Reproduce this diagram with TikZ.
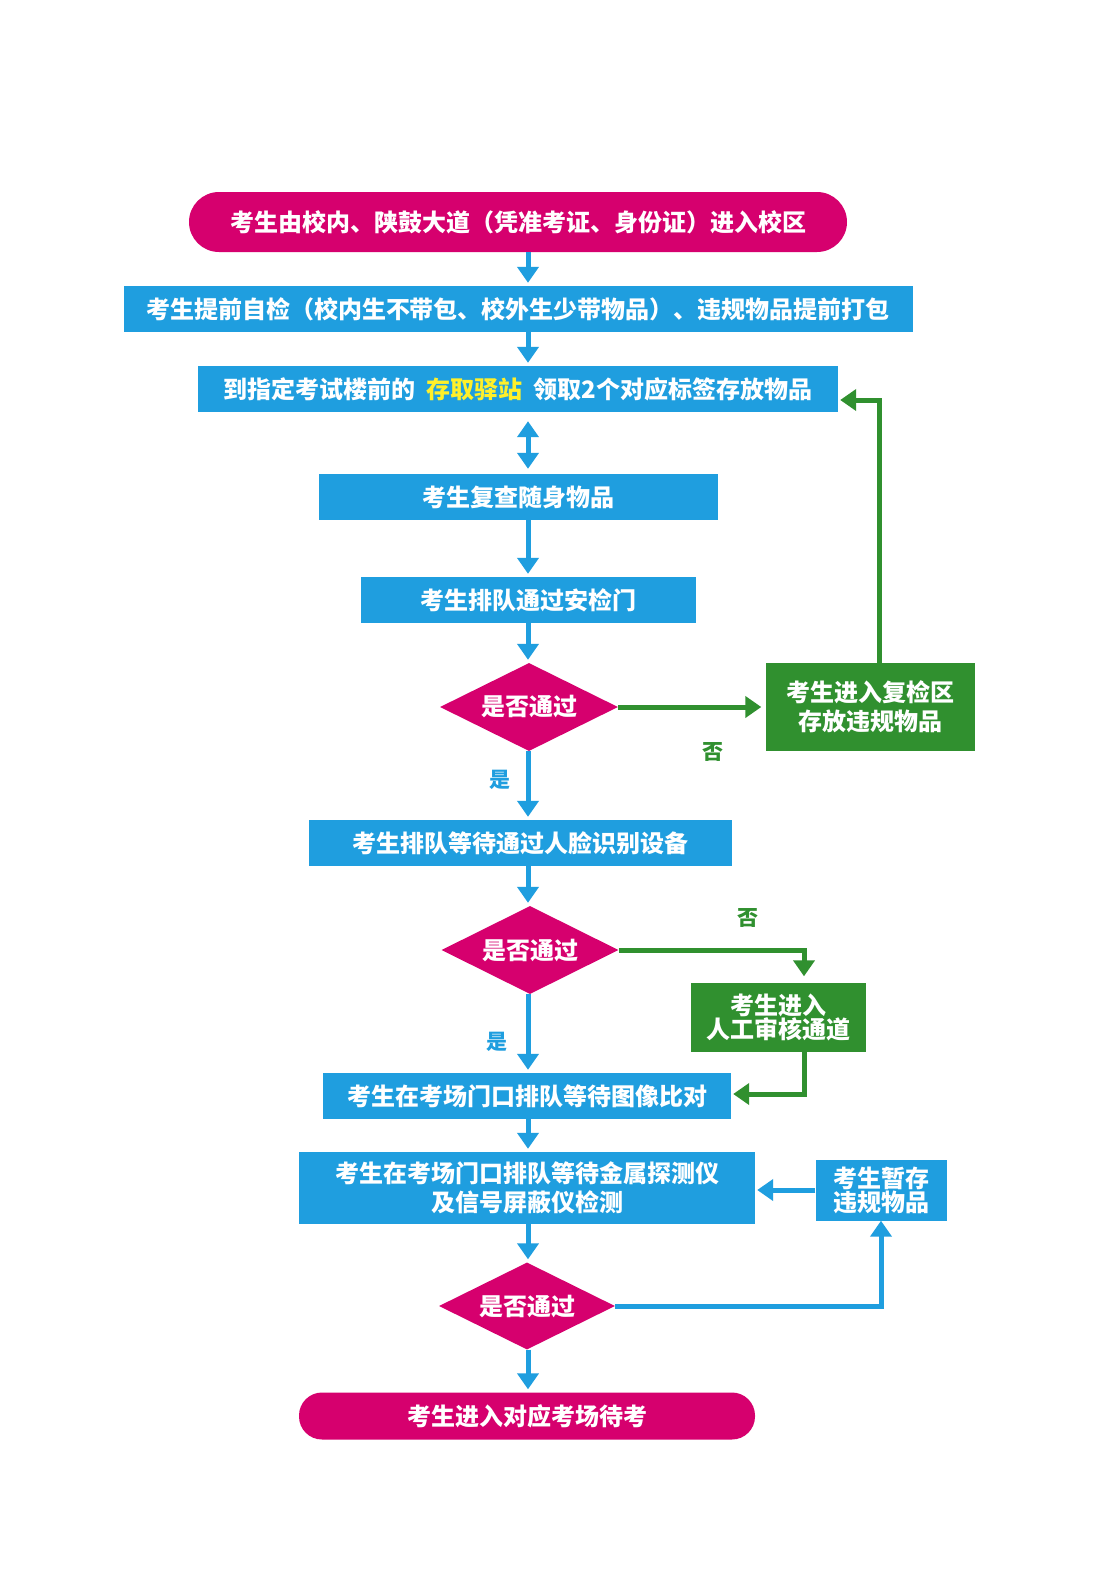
\documentclass[tikz,border=0pt]{standalone}
\usepackage{fontspec}
\setmainfont{Noto Sans CJK SC}
\usetikzlibrary{shapes.geometric,arrows.meta}

\definecolor{flowpink}{HTML}{D6006E}
\definecolor{flowblue}{HTML}{1F9EDF}
\definecolor{flowgreen}{HTML}{30902F}
\definecolor{flowyellow}{HTML}{FFF02A}

\begin{document}
\begin{tikzpicture}[
    x=1pt, y=-1pt,
    font=\fontsize{24}{29}\selectfont\bfseries,
    % node kinds
    term/.style={rectangle, fill=flowpink, text=white, inner sep=0pt, align=center},
    proc/.style={rectangle, fill=flowblue, text=white, inner sep=0pt, align=center},
    redo/.style={rectangle, fill=flowgreen, text=white, inner sep=0pt, align=center},
    check/.style={diamond, fill=flowpink, text=white, inner sep=0pt, aspect=2},
    yeslbl/.style={text=flowblue, font=\fontsize{21}{24}\selectfont\bfseries},
    nolbl/.style={text=flowgreen, font=\fontsize{21}{24}\selectfont\bfseries},
    tight/.style={font=\fontsize{24}{24}\selectfont\bfseries},
    % connectors
    bflow/.style={draw=flowblue, line width=5pt, -{Triangle[width=21pt,length=16pt]}},
    gflow/.style={draw=flowgreen, line width=5pt, -{Triangle[width=21pt,length=16pt]}},
]
\fill[white] (0,0) rectangle (1118,1575);

% =========================================================
% Main column
% =========================================================
\coordinate (col) at (528,0);

\node[term, rounded corners=30pt, minimum width=658pt, minimum height=60pt] (start) at (518,222)
    {考生由校内、陕鼓大道（凭准考证、身份证）进入校区};
\node[proc, minimum width=789pt, minimum height=46pt] (selfchk) at (518,309)
    {考生提前自检（校内生不带包、校外生少带物品）、违规物品提前打包};
\node[proc, minimum width=640pt, minimum height=46pt] (station) at (518,389)
    {到指定考试楼前的\hspace{11pt}\textcolor{flowyellow}{存取驿站}\hspace{11pt}领取2个对应标签存放物品};
\node[proc, minimum width=399pt, minimum height=46pt] (recheck) at (518,497) {考生复查随身物品};
\node[proc, minimum width=335pt, minimum height=46pt] (gate) at (528,600) {考生排队通过安检门};
\node[check, minimum width=178pt, minimum height=88pt] (pass1) at (529,707) {是否通过};
\node[proc, minimum width=423pt, minimum height=46pt] (face) at (520,843) {考生排队等待通过人脸识别设备};
\node[check, minimum width=177pt, minimum height=88pt] (pass2) at (530,950) {是否通过};
\node[proc, minimum width=408pt, minimum height=46pt] (photo) at (527,1096) {考生在考场门口排队等待图像比对};
\node[proc, minimum width=456pt, minimum height=72pt] (metal) at (527,1188)
    {考生在考场门口排队等待金属探测仪\\及信号屏蔽仪检测};
\node[check, minimum width=176pt, minimum height=87pt] (pass3) at (527,1306) {是否通过};
\node[term, rounded corners=23pt, minimum width=456pt, minimum height=47pt] (finish) at (527,1416)
    {考生进入对应考场待考};

% side boxes
\node[redo, minimum width=209pt, minimum height=88pt] (zone) at (870,707) {考生进入复检区\\存放违规物品};
\node[redo, tight, minimum width=175pt, minimum height=69pt] (manual) at (778,1017) {考生进入\\人工审核通道};
\node[proc, tight, minimum width=131pt, minimum height=61pt] (hold) at (881,1190) {考生暂存\\违规物品};

% labels
\node[yeslbl] (yes1) at (500,780) {是};
\node[nolbl]  (no1)  at (713,752) {否};
\node[nolbl]  (no2)  at (748,918) {否};
\node[yeslbl] (yes2) at (497,1042) {是};

% =========================================================
% Connectors
% =========================================================
\draw[bflow, shorten >=3pt] (start.south -| col) -- (selfchk.north -| col);
\draw[bflow, shorten >=3pt] (selfchk.south -| col) -- (station.north -| col);
\draw[bflow, {Triangle[width=21pt,length=16pt]}-{Triangle[width=21pt,length=16pt]},
      shorten <=9pt, shorten >=5pt] (station.south -| col) -- (recheck.north -| col);
\draw[bflow, shorten >=3pt] (recheck.south -| col) -- (gate.north -| col);
\draw[bflow, shorten >=3pt] (gate.south -| col) -- (pass1.north -| col);
\draw[bflow, shorten >=3pt] (pass1.south -| col) -- (face.north -| col);
\draw[bflow, shorten >=3pt] (face.south -| col) -- (pass2.north -| col);
\draw[bflow, shorten >=3pt] (pass2.south -| col) -- (photo.north -| col);
\draw[bflow, shorten >=3pt] (photo.south -| col) -- (metal.north -| col);
\draw[bflow, shorten >=3pt] (metal.south -| col) -- (pass3.north -| col);
\draw[bflow, shorten >=3pt] (pass3.south -| col) -- (finish.north -| col);

% re-check loop
\draw[gflow, shorten >=4pt] (pass1.east) -- (zone.west);
\draw[gflow, shorten >=2pt] ([xshift=9pt]zone.north) |- ([yshift=-11pt]station.east);

% manual review
\draw[gflow, shorten >=6pt] (pass2.east) -| ([xshift=26pt]manual.north);
\draw[gflow, shorten >=2pt] ([xshift=26pt]manual.south) |- ([yshift=2pt]photo.east);

% temporary storage
\draw[bflow] (pass3.east) -| (hold.south);
\draw[bflow, shorten >=2pt] (hold.west) -- (metal.east |- hold.west);

\end{tikzpicture}
\end{document}
